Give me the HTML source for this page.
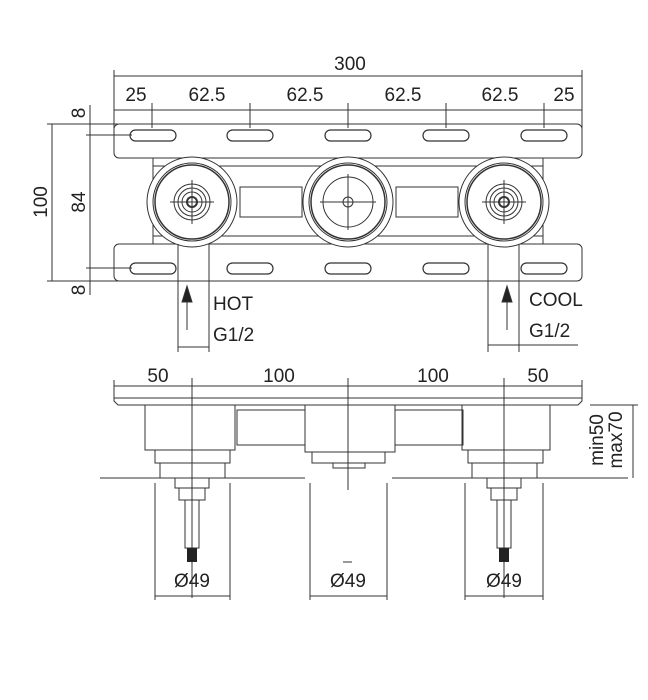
<!DOCTYPE html>
<html><head><style>
html,body{margin:0;padding:0;background:#fff;width:648px;height:700px;overflow:hidden}
svg{display:block}
text{font-family:"Liberation Sans",sans-serif;font-size:19px;fill:#222}
</style></head><body>
<svg width="648" height="700" viewBox="0 0 648 700" xmlns="http://www.w3.org/2000/svg">
<defs>
<marker id="a" viewBox="0 0 10 10" refX="10" refY="5" markerWidth="6" markerHeight="6" orient="auto-start-reverse"><path d="M0,2 L10,5 L0,8" fill="none" stroke="#333" stroke-width="1"/></marker>
</defs>
<g stroke="#333" stroke-width="1" fill="none">
<!-- top dims -->
<line x1="114" y1="70" x2="114" y2="128"/><line x1="582" y1="70" x2="582" y2="128"/>
<line x1="114" y1="76" x2="582" y2="76"/>
<line x1="114" y1="110" x2="582" y2="110"/>
<line x1="152" y1="103" x2="152" y2="128"/><line x1="250" y1="103" x2="250" y2="128"/>
<line x1="348" y1="103" x2="348" y2="128"/><line x1="446" y1="103" x2="446" y2="128"/>
<line x1="544" y1="103" x2="544" y2="128"/>
<!-- left dims -->
<line x1="52" y1="124" x2="52" y2="281"/>
<line x1="47" y1="124" x2="118" y2="124"/><line x1="47" y1="281" x2="118" y2="281"/>
<line x1="90" y1="105" x2="90" y2="295"/>
<line x1="86" y1="135" x2="132" y2="135"/><line x1="86" y1="268" x2="132" y2="268"/>
<!-- plates -->
<rect x="114" y="124" width="468" height="34" rx="5"/>
<rect x="114" y="244" width="468" height="37" rx="5"/>
<g stroke-width="1.2">
<rect x="130" y="130" width="46" height="11" rx="5.5"/><rect x="227" y="130" width="46" height="11" rx="5.5"/>
<rect x="325" y="130" width="46" height="11" rx="5.5"/><rect x="423" y="130" width="46" height="11" rx="5.5"/>
<rect x="521" y="130" width="46" height="11" rx="5.5"/>
<rect x="130" y="263" width="46" height="11" rx="5.5"/><rect x="227" y="263" width="46" height="11" rx="5.5"/>
<rect x="325" y="263" width="46" height="11" rx="5.5"/><rect x="423" y="263" width="46" height="11" rx="5.5"/>
<rect x="521" y="263" width="46" height="11" rx="5.5"/>
</g>
<!-- body -->
<rect x="153" y="158" width="390" height="86"/>
<line x1="153" y1="166" x2="543" y2="166"/><line x1="153" y1="236" x2="543" y2="236"/>
<rect x="240" y="187" width="62" height="30" fill="#fff"/><rect x="396" y="187" width="62" height="30" fill="#fff"/>
<!-- circles -->
<g fill="#fff">
<circle cx="192" cy="202" r="45"/><circle cx="348" cy="202" r="45"/><circle cx="504" cy="202" r="45"/>
</g>
<circle cx="192" cy="202" r="39"/><circle cx="192" cy="202" r="37" stroke-width="1.5"/>
<circle cx="348" cy="202" r="39"/><circle cx="348" cy="202" r="37" stroke-width="1.5"/>
<circle cx="504" cy="202" r="39"/><circle cx="504" cy="202" r="37" stroke-width="1.5"/>
<circle cx="192" cy="202" r="18"/><circle cx="192" cy="202" r="14"/><circle cx="192" cy="202" r="10"/><circle cx="192" cy="202" r="5" stroke-width="2"/>
<circle cx="504" cy="202" r="18"/><circle cx="504" cy="202" r="14"/><circle cx="504" cy="202" r="10"/><circle cx="504" cy="202" r="5" stroke-width="2"/>
<circle cx="348" cy="202" r="25"/><circle cx="348" cy="202" r="5"/>
<line x1="170" y1="202" x2="214" y2="202"/><line x1="192" y1="180" x2="192" y2="224"/>
<line x1="482" y1="202" x2="526" y2="202"/><line x1="504" y1="180" x2="504" y2="224"/>
<line x1="320" y1="202" x2="376" y2="202"/><line x1="348" y1="174" x2="348" y2="230"/>
<!-- HOT / COOL -->
<line x1="178" y1="244" x2="178" y2="352"/><line x1="209" y1="244" x2="209" y2="352"/>
<line x1="178" y1="347" x2="209" y2="347"/>
<line x1="187" y1="330" x2="187" y2="300"/>
<path d="M187,286 L182,302 L192,302 Z" fill="#222"/>
<line x1="488" y1="244" x2="488" y2="352"/><line x1="519" y1="244" x2="519" y2="352"/>
<line x1="488" y1="345" x2="519" y2="345"/><line x1="519" y1="345" x2="578" y2="345"/>
<line x1="507" y1="330" x2="507" y2="300"/>
<path d="M507,286 L502,302 L512,302 Z" fill="#222"/>
<!-- bottom view dims -->
<line x1="114" y1="380" x2="114" y2="398"/><line x1="582" y1="380" x2="582" y2="398"/>
<line x1="114" y1="386" x2="582" y2="386"/>
<line x1="192" y1="378" x2="192" y2="598"/>
<line x1="348" y1="378" x2="348" y2="490"/>
<line x1="504" y1="378" x2="504" y2="598"/>
<!-- plate side -->
<path d="M114,398 L582,398 L582,401 L578,405 L118,405 L114,401 Z"/>
<!-- blocks -->
<rect x="145" y="405" width="90" height="45"/>
<rect x="237" y="410" width="68" height="35"/>
<rect x="305" y="405" width="90" height="47"/>
<rect x="395" y="410" width="68" height="35"/>
<rect x="462" y="405" width="88" height="45"/>
<rect x="155" y="450" width="75" height="13"/><rect x="160" y="463" width="65" height="15"/>
<rect x="312" y="452" width="73" height="11"/><rect x="333" y="463" width="32" height="5"/>
<rect x="468" y="450" width="75" height="13"/><rect x="472" y="463" width="65" height="15"/>
<!-- floor -->
<line x1="100" y1="478" x2="305" y2="478"/><line x1="392" y1="478" x2="628" y2="478"/>
<line x1="590" y1="405" x2="638" y2="405"/>
<line x1="633" y1="405" x2="633" y2="478"/>
<!-- fittings -->
<rect x="175" y="478" width="34" height="10"/><rect x="179" y="488" width="26" height="12"/>
<rect x="185" y="500" width="14" height="48"/>
<rect x="487" y="478" width="34" height="10"/><rect x="491" y="488" width="26" height="12"/>
<rect x="497" y="500" width="14" height="48"/>
<!-- Ø49 dims -->
<line x1="155" y1="483" x2="155" y2="600"/><line x1="230" y1="483" x2="230" y2="600"/>
<line x1="155" y1="596" x2="230" y2="596"/>
<line x1="310" y1="483" x2="310" y2="600"/><line x1="387" y1="483" x2="387" y2="600"/>
<line x1="310" y1="596" x2="387" y2="596"/>
<line x1="465" y1="483" x2="465" y2="600"/><line x1="543" y1="483" x2="543" y2="600"/>
<line x1="465" y1="596" x2="543" y2="596"/>
<line x1="343" y1="562" x2="352" y2="562"/>
</g>
<rect x="187" y="548" width="10" height="14" fill="#222"/>
<rect x="499" y="548" width="10" height="14" fill="#222"/>
<!-- text -->
<text x="350" y="70" text-anchor="middle">300</text>
<text x="136" y="101" text-anchor="middle">25</text>
<text x="207" y="101" text-anchor="middle">62.5</text>
<text x="305" y="101" text-anchor="middle">62.5</text>
<text x="403" y="101" text-anchor="middle">62.5</text>
<text x="500" y="101" text-anchor="middle">62.5</text>
<text x="564" y="101" text-anchor="middle">25</text>
<text transform="translate(47,202) rotate(-90)" text-anchor="middle">100</text>
<text transform="translate(85,202) rotate(-90)" text-anchor="middle">84</text>
<text transform="translate(85,113) rotate(-90)" text-anchor="middle">8</text>
<text transform="translate(85,290) rotate(-90)" text-anchor="middle">8</text>
<text x="213" y="310">HOT</text>
<text x="213" y="341">G1/2</text>
<text x="529" y="306">COOL</text>
<text x="529" y="337">G1/2</text>
<text x="158" y="382" text-anchor="middle">50</text>
<text x="279" y="382" text-anchor="middle">100</text>
<text x="433" y="382" text-anchor="middle">100</text>
<text x="538" y="382" text-anchor="middle">50</text>
<text transform="translate(603,440) rotate(-90)" text-anchor="middle">min50</text>
<text transform="translate(622,440) rotate(-90)" text-anchor="middle">max70</text>
<text x="192" y="587" text-anchor="middle">Ø49</text>
<text x="348" y="587" text-anchor="middle">Ø49</text>
<text x="504" y="587" text-anchor="middle">Ø49</text>
</svg>
</body></html>
